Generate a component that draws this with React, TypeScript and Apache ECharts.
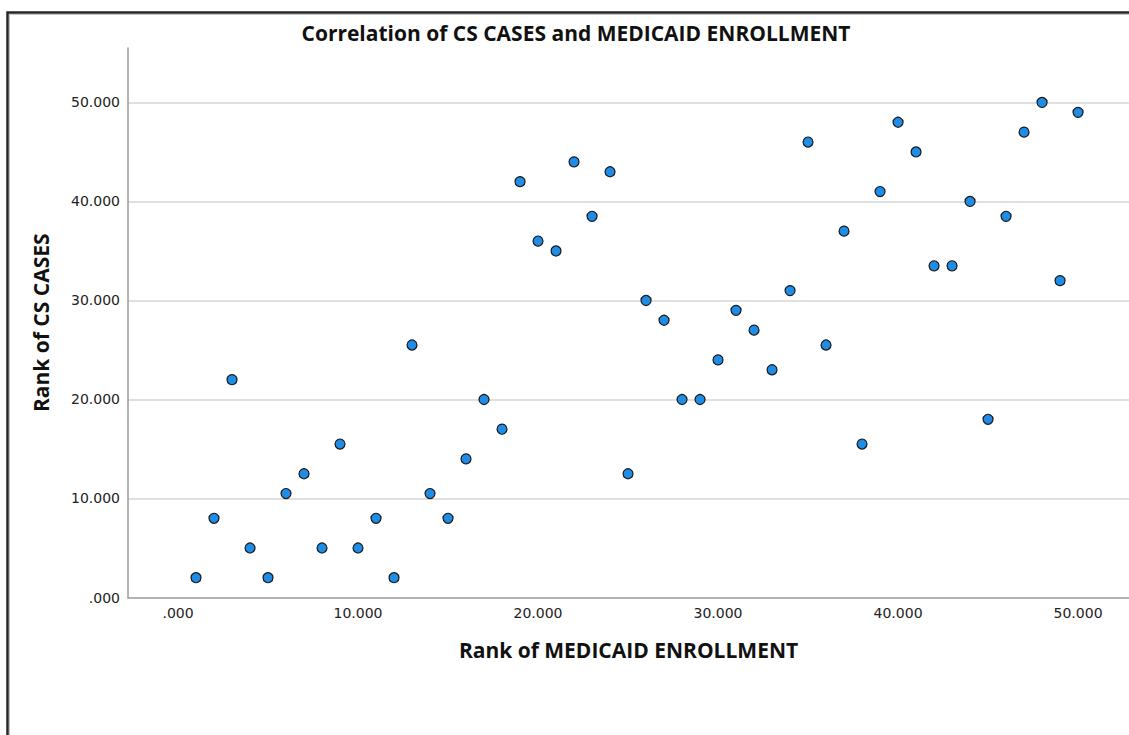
import React, { useEffect, useRef } from 'react';
import * as echarts from 'echarts';

// Rank of MEDICAID ENROLLMENT (x)
const medicaidRank = [
  1, 2, 3, 4, 5, 6, 7, 8, 9, 10,
  11, 12, 13, 14, 15, 16, 17, 18, 19, 20,
  21, 22, 23, 24, 25, 26, 27, 28, 29, 30,
  31, 32, 33, 34, 35, 36, 37, 38, 39, 40,
  41, 42, 43, 44, 45, 46, 47, 48, 49, 50,
];

// Rank of CS CASES (y)
const csRank = [
  2, 8, 22, 5, 2, 10.5, 12.5, 5, 15.5, 5,
  8, 2, 25.5, 10.5, 8, 14, 20, 17, 42, 36,
  35, 44, 38.5, 43, 12.5, 30, 28, 20, 20, 24,
  29, 27, 23, 31, 46, 25.5, 37, 15.5, 41, 48,
  45, 33.5, 33.5, 40, 18, 38.5, 47, 50, 32, 49,
];

const tickValues = [0, 10, 20, 30, 40, 50];
const tickLabels = ['.000', '10.000', '20.000', '30.000', '40.000', '50.000'];

const titleText = 'Correlation of CS CASES and MEDICAID ENROLLMENT';
const xName = 'Rank of MEDICAID ENROLLMENT';
const yName = 'Rank of CS CASES';

const headFont = "'Open Sans', sans-serif";
const tickFont = "'DejaVu Sans', Verdana, sans-serif";

function fmt(v: number): string {
  for (let i = 0; i < tickValues.length; i++) {
    if (Math.abs(v - tickValues[i]) < 1e-6) return tickLabels[i];
  }
  return '';
}

export default function App() {
  const ref = useRef<HTMLDivElement>(null);
  useEffect(() => {
    document.body.style.margin = '0';
    const chart = echarts.init(ref.current as HTMLDivElement, null, { renderer: 'svg' });
    const data = medicaidRank.map((x, i) => [x, csRank[i]]);
    chart.setOption({
      animation: false,
      backgroundColor: '#ffffff',
      graphic: [
        {
          type: 'rect',
          z: -10,
          silent: true,
          shape: { x: 7.5, y: 12.5, width: 1400, height: 1000 },
          style: { fill: 'none', stroke: '#262626', lineWidth: 2.5 },
        },
        {
          type: 'rect',
          z: -10,
          silent: true,
          shape: { x: 9.5, y: 14.5, width: 1400, height: 1000 },
          style: { fill: 'none', stroke: '#c4c4c4', lineWidth: 1 },
        },
        {
          type: 'text',
          x: 576,
          y: 33,
          style: {
            text: titleText,
            fontFamily: headFont,
            fontWeight: 'bold',
            fontSize: 21,
            fill: '#111111',
            align: 'center',
            verticalAlign: 'middle',
          },
        },
      ],
      grid: {
        left: 128,
        right: 0,
        top: 48,
        bottom: 137.5,
        containLabel: false,
      },
      xAxis: {
        type: 'value',
        min: -2.778,
        max: 52.83,
        splitNumber: 5,
        name: xName,
        nameLocation: 'middle',
        nameGap: 42,
        nameTextStyle: {
          fontFamily: headFont,
          fontWeight: 'bold',
          fontSize: 21,
          color: '#111111',
        },
        axisLine: { show: true, onZero: false, lineStyle: { color: '#9a9a9a', width: 1.5 } },
        axisTick: { show: false },
        splitLine: { show: false },
        axisLabel: {
          formatter: fmt,
          showMinLabel: false,
          showMaxLabel: false,
          margin: 8,
          fontFamily: tickFont,
          fontSize: 14,
          color: '#222222',
        },
      },
      yAxis: {
        type: 'value',
        min: 0,
        max: 55.5,
        interval: 10,
        name: yName,
        nameLocation: 'middle',
        nameGap: 77,
        nameTextStyle: {
          fontFamily: headFont,
          fontWeight: 'bold',
          fontSize: 21,
          color: '#111111',
        },
        axisLine: { show: true, onZero: false, lineStyle: { color: '#9a9a9a', width: 1.5 } },
        axisTick: { show: false },
        splitLine: {
          show: true,
          showMinLine: false,
          showMaxLine: false,
          lineStyle: { color: '#d6d6d6', width: 1.5 },
        },
        axisLabel: {
          formatter: fmt,
          showMaxLabel: false,
          margin: 8,
          fontFamily: tickFont,
          fontSize: 14,
          color: '#222222',
        },
      },
      series: [
        {
          type: 'scatter',
          data,
          symbol: 'circle',
          symbolSize: 10,
          itemStyle: {
            color: '#1f8de6',
            borderColor: '#1a1a1a',
            borderWidth: 1.2,
            opacity: 1,
          },
        },
      ],
    });
    return () => {
      chart.dispose();
    };
  }, []);
  return <div ref={ref} style={{ width: 1129, height: 735 }} />;
}
